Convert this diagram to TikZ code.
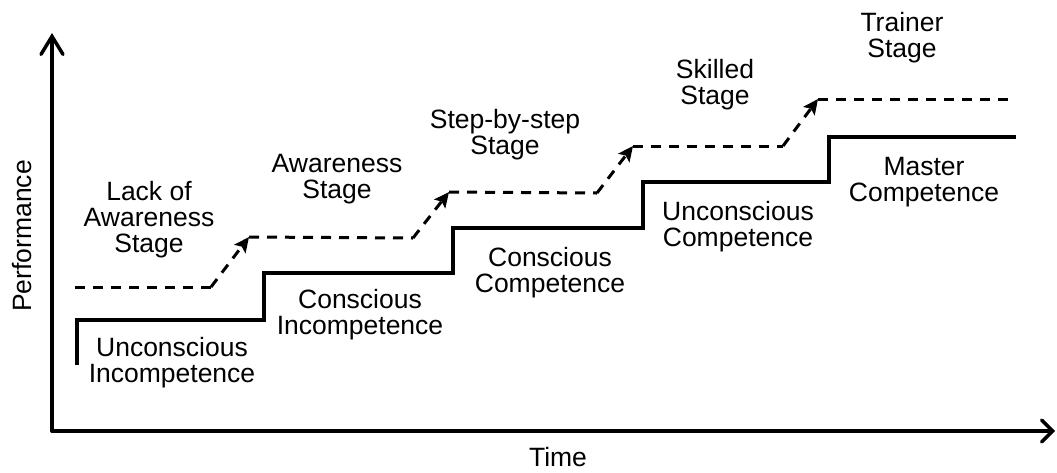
\documentclass[tikz,border=0pt]{standalone}
\usepackage{fontspec}
\setmainfont{Liberation Sans}
\usetikzlibrary{arrows.meta}
\begin{document}
\begin{tikzpicture}[x=1pt,y=-1pt,
  lbl/.style={anchor=north,inner sep=0pt,align=center,font=\fontsize{26.5}{26}\selectfont},
  axisline/.style={line width=3.5pt,line cap=round},
  stair/.style={line width=3.5pt,line join=miter},
  dashline/.style={line width=3pt,dash pattern=on 10pt off 8pt},
  dasharrow/.style={dashline,-{Stealth[length=15pt,width=14pt,inset=3pt]}}]
\useasboundingbox (0,0) rectangle (1057,472);
% axes
\coordinate (O) at (52,431);
\coordinate (ytip) at (52,33);
\coordinate (xtip) at (1055,431);
\draw[axisline,-{Straight Barb[length=18pt,width=22pt,line cap=round]}] (O) -- (ytip);
\draw[axisline,-{Straight Barb[length=11pt,width=22pt,line cap=round]}] (O) -- (xtip);
% solid staircase
\coordinate (s0) at (77,365);
\coordinate (s1) at (77,320);
\coordinate (s2) at (264,320);
\coordinate (s3) at (264,273);
\coordinate (s4) at (453,273);
\coordinate (s5) at (453,228);
\coordinate (s6) at (643,228);
\coordinate (s7) at (643,182);
\coordinate (s8) at (829,182);
\coordinate (s9) at (829,137);
\coordinate (s10) at (1016,137);
\draw[stair] (s0) -- (s1) -- (s2) -- (s3) -- (s4) -- (s5) -- (s6) -- (s7) -- (s8) -- (s9) -- (s10);
% dashed staircase
\coordinate (d0) at (75,287);
\coordinate (d1) at (211,287);
\coordinate (d2) at (249,237);
\coordinate (d3) at (413,238);
\coordinate (d4) at (449,192);
\coordinate (d5) at (597,193);
\coordinate (d6) at (633,146);
\coordinate (d7) at (783,146);
\coordinate (d8) at (818,99);
\coordinate (d9) at (1013,99);
\draw[dashline] (d0) -- (d1);
\draw[dasharrow] (d1) -- (d2);
\draw[dashline] (d2) -- (d3);
\draw[dasharrow] (d3) -- (d4);
\draw[dashline] (d4) -- (d5);
\draw[dasharrow] (d5) -- (d6);
\draw[dashline] (d6) -- (d7);
\draw[dasharrow] (d7) -- (d8);
\draw[dashline] (d8) -- (d9);
% competence labels
\node[lbl] (uc) at (172,337) {Unconscious\\Incompetence};
\node[lbl] (ci) at (360,289) {Conscious\\Incompetence};
\node[lbl] (cc) at (550,247) {Conscious\\Competence};
\node[lbl] (ucc) at (738,201) {Unconscious\\Competence};
\node[lbl] (mc) at (924,157) {Master\\Competence};
% stage labels
\node[lbl] (la) at (149,181) {Lack of\\Awareness\\Stage};
\node[lbl] (aw) at (337,154) {Awareness\\Stage};
\node[lbl] (sbs) at (505,109) {Step-by-step\\Stage};
\node[lbl] (sk) at (715,59) {Skilled\\Stage};
\node[lbl] (tr) at (902,12) {Trainer\\Stage};
% axis labels
\node[lbl] (time) at (558,447) {Time};
\node[inner sep=0pt,rotate=90,font=\fontsize{26.5}{26}\selectfont] (perf) at (22,236) {Performance};
\end{tikzpicture}
\end{document}
